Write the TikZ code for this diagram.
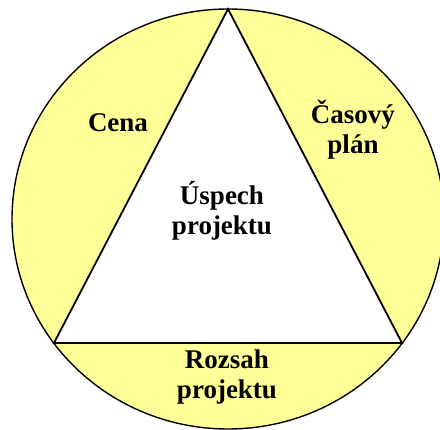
\documentclass[tikz,border=0pt]{standalone}
\usepackage{fontspec}
\setmainfont{Liberation Serif}
\usepackage{tikz}
\usetikzlibrary{positioning}
\definecolor{paleyellow}{HTML}{FFFF99}

\begin{document}
\begin{tikzpicture}[x=1pt, y=-1pt,
		part/.style = {font = \fontsize{27}{30}\selectfont\bfseries, align = center}]
				\useasboundingbox (0,0) rectangle (440,430);
				\clip (0,0) rectangle (440,430);
				\draw[line width = 1.4pt, fill = paleyellow] (228,219) ellipse [x radius = 216pt, y radius = 210pt];
				\coordinate (top) at (228,9);
				\coordinate (left) at (54,343);
				\coordinate (right) at (402,343);
				\draw[line width = 1.8pt, fill = white, line join = miter] (top) -- (left) -- (right) -- cycle;
				\node[part] (cena) at (118,123) {Cena};
				\node[part] (cas) at (353,130) {Časový\\plán};
				\node[part] (uspech) at (222,211) {Úspech\\projektu};
				\node[part] (rozsah) at (227,377) {Rozsah\\projektu};
			\end{tikzpicture}
\end{document}
